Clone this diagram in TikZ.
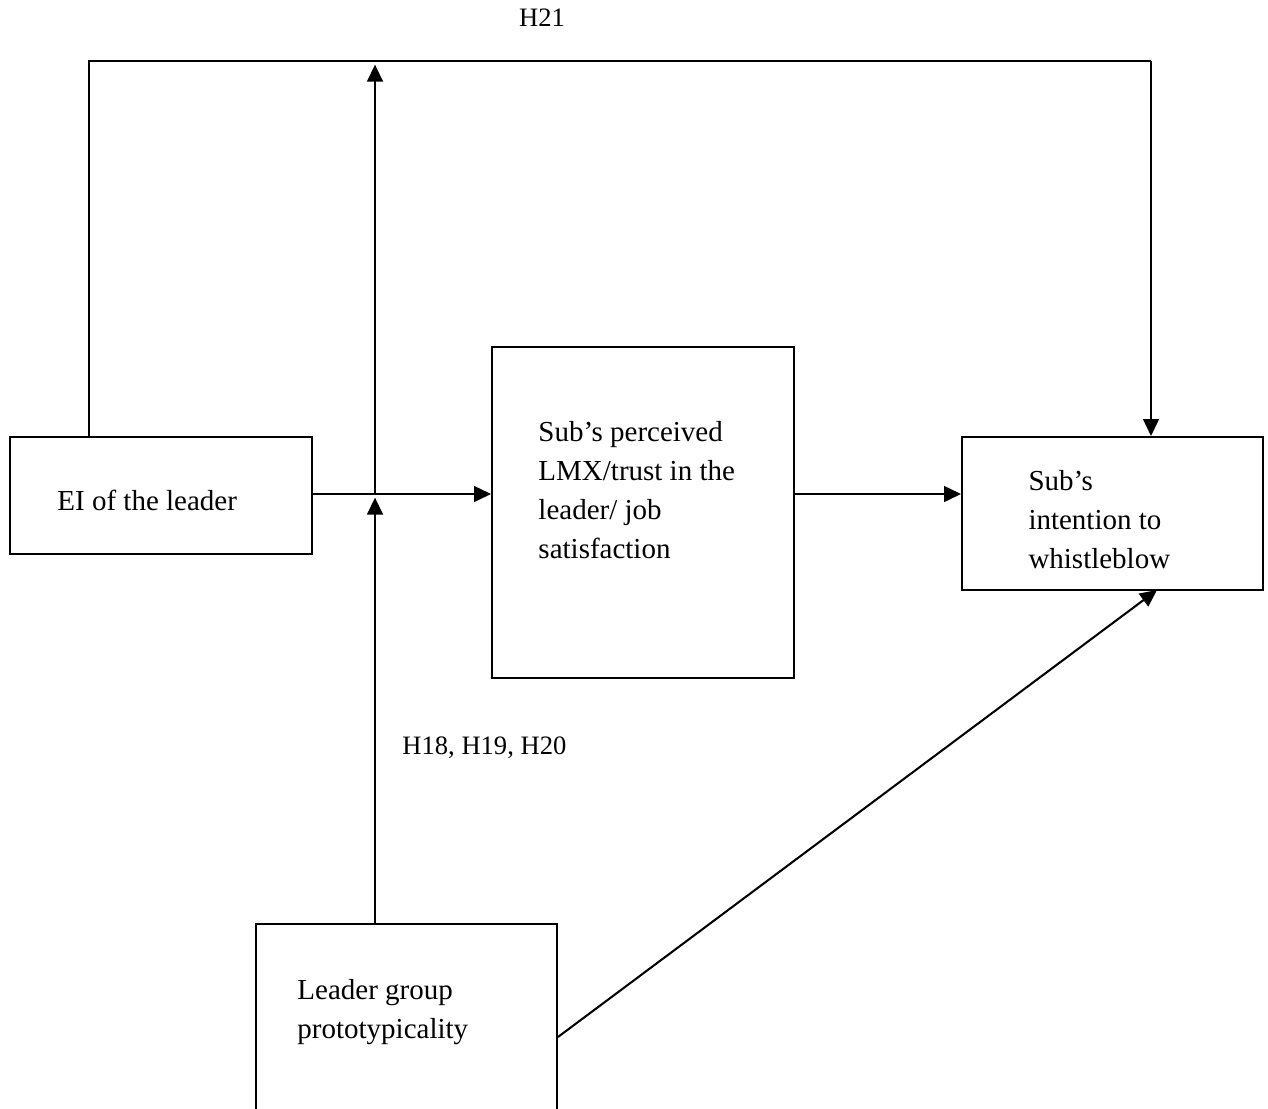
\documentclass[tikz,border=0pt]{standalone}
\usepackage{fontspec}
\setmainfont{Liberation Serif}
\usetikzlibrary{arrows.meta,fit,calc}

\begin{document}
\begin{tikzpicture}[x=0.414pt,y=-0.414pt,
  box/.style={draw=black,line width=0.8pt,inner sep=0pt},
  e/.style={draw=black,line width=0.85pt},
  arr/.style={e,-{Triangle[length=7pt,width=6.5pt]}},
  txt/.style={anchor=north west,inner sep=0pt,align=left,font=\fontsize{12}{16.1}\selectfont},
  lab/.style={inner sep=0pt,font=\fontsize{11}{13}\selectfont}]
  \useasboundingbox (0,0) rectangle (1268,1108);
  % boxes
  \node[box,fit={(10,437) (312,554)}] (ei) {};
  \node[box,fit={(492,347) (794,678)}] (lmx) {};
  \node[box,fit={(962,437) (1263,590)}] (wb) {};
  \node[box,fit={(256,924) (557,1150)}] (proto) {};
  \node[txt] (eitxt) at (57,490) {EI of the leader};
  \node[txt] (lmxtxt) at (538,421) {Sub’s perceived\\LMX/trust in the\\leader/ job\\satisfaction};
  \node[txt] (wbtxt) at (1028,470) {Sub’s\\intention to\\whistleblow};
  \node[txt] (prototxt) at (297,979) {Leader group\\prototypicality};
  % connectors
  \coordinate (tl) at (89,61);
  \coordinate (tr) at (1151,61);
  \coordinate (j) at (375,494);
  \coordinate (wbs) at (1157,590);
  \draw[e] (ei.north -| tl) -- (tl) -- (tr);
  \draw[arr] (tr) -- (wb.north -| tr);
  \draw[arr] (ei.east |- j) -- (lmx.west |- j);
  \draw[arr] (lmx.east |- j) -- (wb.west |- j);
  \draw[arr,shorten >=1.5pt] (proto.north -| j) -- (j);
  \draw[arr,shorten >=1.5pt] (j) -- (j |- tl);
  \draw[arr] (proto.east) -- (wbs);
  % labels
  \node[lab] (h21) at (542,18) {H21};
  \node[lab,anchor=west] (h18) at (402,748) {H18, H19, H20};
\end{tikzpicture}
\end{document}
